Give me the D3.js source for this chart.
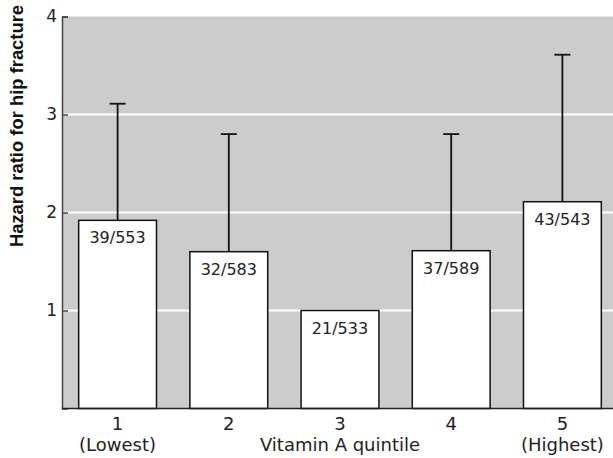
<!DOCTYPE html>
<html>
<head>
<meta charset="utf-8">
<script src="https://cdn.jsdelivr.net/npm/d3@7"></script>
<style>
  html, body { margin: 0; padding: 0; background: #fff; }
  svg { display: block; }
  text { font-family: "DejaVu Sans", sans-serif; fill: #222; }
  text.ytitle { font-family: "Liberation Sans", Arial, sans-serif; font-weight: bold; fill: #111; }
</style>
</head>
<body>
<svg id="chart" width="613" height="458"></svg>
<script>
// Hip fracture hazard ratios by vitamin A quintile
const quintiles = ["1", "2", "3", "4", "5"];
const quintileNotes = ["(Lowest)", "", "", "", "(Highest)"];
const hazardRatio = [1.92, 1.60, 1.00, 1.61, 2.11];
const upperCI = [3.11, 2.80, null, 2.80, 3.61];
const caseCounts = ["39/553", "32/583", "21/533", "37/589", "43/543"];
const yTicks = [1, 2, 3, 4];

const svg = d3.select("#chart");
const plotLeft = 62, plotRight = 618, plotTop = 16.5, plotBottom = 408.5;

const x = d3.scaleBand().domain(quintiles).range([plotLeft, plotRight])
  .paddingInner(0.3).paddingOuter(0.15);
const y = d3.scaleLinear().domain([0, 4]).range([plotBottom, plotTop]);

const rows = quintiles.map((q, i) => ({
  q, note: quintileNotes[i], hr: hazardRatio[i], hi: upperCI[i], label: caseCounts[i]
}));
const cx = d => x(d.q) + x.bandwidth() / 2;

// plot background
svg.append("rect")
  .attr("x", plotLeft).attr("y", plotTop)
  .attr("width", plotRight - plotLeft).attr("height", plotBottom - plotTop)
  .attr("fill", "#cccccc");

// white gridlines
svg.append("g").selectAll("line")
  .data(yTicks.filter(t => t < 4))
  .join("line")
  .attr("x1", plotLeft).attr("x2", plotRight)
  .attr("y1", d => y(d)).attr("y2", d => y(d))
  .attr("stroke", "#fff").attr("stroke-width", 2);

// y axis with short inward ticks
const yAxis = d3.axisLeft(y).tickValues(yTicks).tickSize(-6).tickPadding(5).tickFormat(d3.format("d"));
const gy = svg.append("g").attr("transform", `translate(${plotLeft},0)`).call(yAxis);
gy.select(".domain").attr("stroke", "#444").attr("stroke-width", 1.5);
gy.selectAll(".tick line").attr("stroke", "#444").attr("stroke-width", 1.5);
gy.selectAll(".tick text").style("font-size", "17px").style("fill", "#222");

// error bars (upper bound only)
const eb = svg.append("g").selectAll("g")
  .data(rows.filter(d => d.hi !== null))
  .join("g");
eb.append("line")
  .attr("x1", cx).attr("x2", cx)
  .attr("y1", d => y(d.hr)).attr("y2", d => y(d.hi))
  .attr("stroke", "#111").attr("stroke-width", 1.8);
eb.append("line")
  .attr("x1", d => cx(d) - 8).attr("x2", d => cx(d) + 8)
  .attr("y1", d => y(d.hi)).attr("y2", d => y(d.hi))
  .attr("stroke", "#111").attr("stroke-width", 1.8);

// bars
svg.append("g").selectAll("rect")
  .data(rows)
  .join("rect")
  .attr("x", d => x(d.q)).attr("width", x.bandwidth())
  .attr("y", d => y(d.hr)).attr("height", d => plotBottom - y(d.hr))
  .attr("fill", "#fff").attr("stroke", "#111").attr("stroke-width", 1.5);

// case counts inside bars
svg.append("g").selectAll("text")
  .data(rows)
  .join("text")
  .attr("x", cx)
  .attr("y", d => y(d.hr) + 23)
  .attr("text-anchor", "middle")
  .style("font-size", "16px")
  .text(d => d.label);

// baseline
svg.append("line")
  .attr("x1", plotLeft).attr("x2", plotRight)
  .attr("y1", plotBottom).attr("y2", plotBottom)
  .attr("stroke", "#222").attr("stroke-width", 1.5);

// x labels
const xl = svg.append("g");
xl.selectAll("text.q")
  .data(rows)
  .join("text")
  .attr("class", "q")
  .attr("x", cx)
  .attr("y", 430)
  .attr("text-anchor", "middle")
  .style("font-size", "18px")
  .text(d => d.q);
xl.selectAll("text.n")
  .data(rows.filter(d => d.note))
  .join("text")
  .attr("class", "n")
  .attr("x", cx)
  .attr("y", 451)
  .attr("text-anchor", "middle")
  .style("font-size", "18px")
  .text(d => d.note);
xl.append("text")
  .attr("x", x("3") + x.bandwidth() / 2)
  .attr("y", 451)
  .attr("text-anchor", "middle")
  .style("font-size", "18px")
  .text("Vitamin A quintile");

// y axis title
svg.append("text")
  .attr("class", "ytitle")
  .attr("transform", "translate(23,126) rotate(-90)")
  .attr("text-anchor", "middle")
  .style("font-size", "18.4px")
  .text("Hazard ratio for hip fracture");
</script>
</body>
</html>
